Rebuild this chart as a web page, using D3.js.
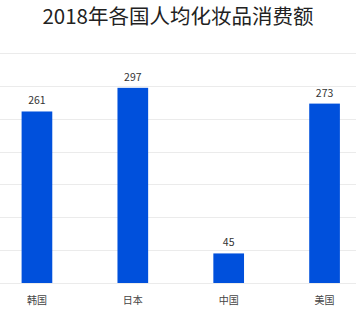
<!DOCTYPE html>
<html>
<head>
<meta charset="utf-8">
<script src="https://cdn.jsdelivr.net/npm/d3@7"></script>
<style>
	body { margin: 0; background: #fff; }
	svg { display: block; font-family: "Noto Sans CJK SC", "Noto Sans", sans-serif; }
</style>
</head>
<body>
<div id="chart-area"></div>
<script>
// Data
let countries = ["韩国", "日本", "中国", "美国"];
let spending = [261, 297, 45, 273];
let yTicks = [0, 50, 100, 150, 200, 250, 300, 350];

let width = 356,
	height = 309;

let margin = {top: 53, bottom: 26};

let svg = d3.select("#chart-area").append("svg")
	.attr("width", width)
	.attr("height", height);

// Title
svg.append("text")
	.attr("x", width / 2)
	.attr("y", 24)
	.attr("text-anchor", "middle")
	.attr("font-size", 20.5)
	.attr("fill", "#222")
	.text("2018年各国人均化妆品消费额");

// Scales
let x = d3.scaleBand()
	.domain(countries)
	.range([-11, 372.5])
	.paddingInner(0.68)
	.paddingOuter(0.34);

let y = d3.scaleLinear()
	.domain([0, 350])
	.range([height - margin.bottom, margin.top]);

// Grid lines
svg.append("g")
	.selectAll("line")
	.data(yTicks)
	.enter()
	.append("line")
	.attr("x1", 0)
	.attr("x2", width)
	.attr("y1", d => Math.round(y(d)) + 0.5)
	.attr("y2", d => Math.round(y(d)) + 0.5)
	.attr("stroke", "#ebebeb")
	.attr("stroke-width", 1);

// Bars
let data = countries.map((c, i) => ({country: c, value: spending[i]}));

svg.selectAll("rect.bar")
	.data(data)
	.enter()
	.append("rect")
	.attr("class", "bar")
	.attr("x", d => x(d.country))
	.attr("y", d => y(d.value))
	.attr("width", x.bandwidth())
	.attr("height", d => y(0) - y(d.value))
	.attr("fill", "#0050dc");

// Value labels
svg.selectAll("text.value")
	.data(data)
	.enter()
	.append("text")
	.attr("class", "value")
	.attr("x", d => x(d.country) + x.bandwidth() / 2)
	.attr("y", d => y(d.value) - 7)
	.attr("text-anchor", "middle")
	.attr("font-size", 10.5)
	.attr("fill", "#333")
	.text(d => d.value);

// Category labels
svg.selectAll("text.cat")
	.data(data)
	.enter()
	.append("text")
	.attr("class", "cat")
	.attr("x", d => x(d.country) + x.bandwidth() / 2)
	.attr("y", y(0) + 21)
	.attr("text-anchor", "middle")
	.attr("font-size", 10)
	.attr("fill", "#444")
	.text(d => d.country);
</script>
</body>
</html>
